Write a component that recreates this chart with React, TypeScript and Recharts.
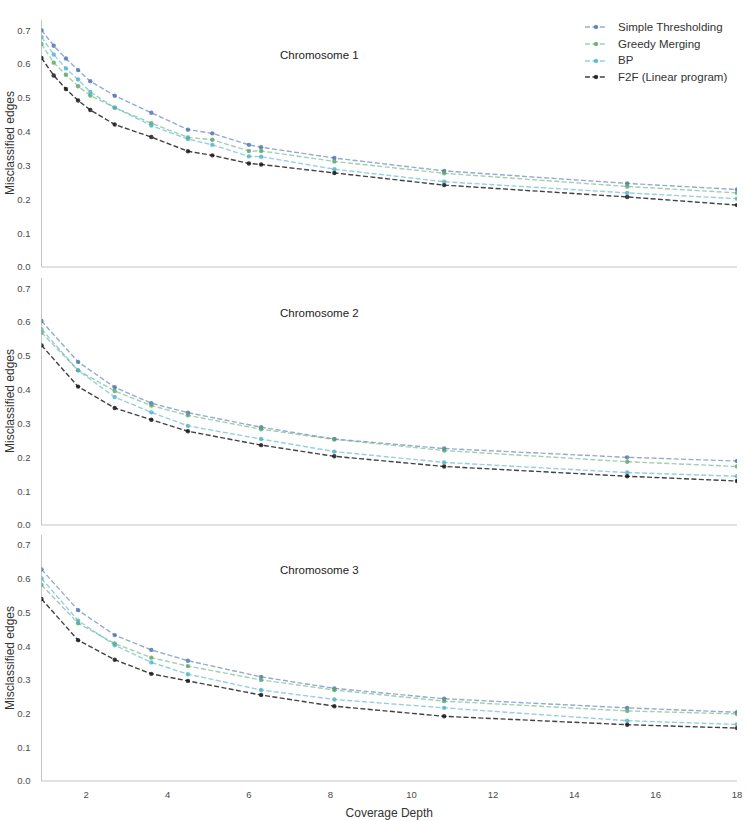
import React from 'react';
import { LineChart, Line, XAxis, YAxis } from 'recharts';

// coverage depths sampled (chromosome 1 has extra points)
const depth1 = [0.9, 1.2, 1.5, 1.8, 2.1, 2.7, 3.6, 4.5, 5.1, 6.0, 6.3, 8.1, 10.8, 15.3, 18];
const depth23 = [0.9, 1.8, 2.7, 3.6, 4.5, 6.3, 8.1, 10.8, 15.3, 18];

const chr1Simple = [0.700, 0.654, 0.616, 0.582, 0.549, 0.506, 0.456, 0.406, 0.395, 0.361, 0.354, 0.322, 0.284, 0.247, 0.229];
const chr1Greedy = [0.659, 0.604, 0.568, 0.534, 0.507, 0.471, 0.425, 0.383, 0.376, 0.343, 0.343, 0.312, 0.277, 0.238, 0.219];
const chr1Bp = [0.680, 0.628, 0.587, 0.554, 0.517, 0.471, 0.418, 0.378, 0.361, 0.327, 0.326, 0.289, 0.252, 0.219, 0.202];
const chr1F2f = [0.618, 0.566, 0.526, 0.492, 0.464, 0.421, 0.384, 0.342, 0.330, 0.306, 0.303, 0.278, 0.242, 0.207, 0.183];

const chr2Simple = [0.603, 0.482, 0.407, 0.360, 0.332, 0.289, 0.254, 0.226, 0.200, 0.189];
const chr2Greedy = [0.569, 0.457, 0.396, 0.353, 0.324, 0.283, 0.253, 0.220, 0.187, 0.173];
const chr2Bp = [0.579, 0.457, 0.378, 0.333, 0.293, 0.254, 0.217, 0.185, 0.155, 0.144];
const chr2F2f = [0.531, 0.409, 0.346, 0.311, 0.277, 0.236, 0.203, 0.173, 0.144, 0.130];

const chr3Simple = [0.628, 0.507, 0.433, 0.389, 0.357, 0.309, 0.275, 0.244, 0.217, 0.204];
const chr3Greedy = [0.582, 0.468, 0.408, 0.366, 0.341, 0.300, 0.270, 0.237, 0.208, 0.199];
const chr3Bp = [0.601, 0.476, 0.403, 0.352, 0.317, 0.270, 0.242, 0.217, 0.179, 0.168];
const chr3F2f = [0.540, 0.418, 0.360, 0.318, 0.297, 0.255, 0.222, 0.192, 0.167, 0.157];

const xTicks = [2, 4, 6, 8, 10, 12, 14, 16, 18];
const yTicks = [0, 0.1, 0.2, 0.3, 0.4, 0.5, 0.6, 0.7];

const series = [
  { key: 'simple', name: 'Simple Thresholding', color: '#4c72b0', lineOp: 0.6 },
  { key: 'greedy', name: 'Greedy Merging', color: '#55a868', lineOp: 0.55 },
  { key: 'bp', name: 'BP', color: '#4fb0cc', lineOp: 0.6 },
  { key: 'f2f', name: 'F2F (Linear program)', color: '#111111', lineOp: 0.8 },
];

function rows(xs: number[], a: number[], b: number[], c: number[], d: number[]) {
  return xs.map((x, i) => ({ x, simple: a[i], greedy: b[i], bp: c[i], f2f: d[i] }));
}

const panels = [
  { title: 'Chromosome 1', data: rows(depth1, chr1Simple, chr1Greedy, chr1Bp, chr1F2f) },
  { title: 'Chromosome 2', data: rows(depth23, chr2Simple, chr2Greedy, chr2Bp, chr2F2f) },
  { title: 'Chromosome 3', data: rows(depth23, chr3Simple, chr3Greedy, chr3Bp, chr3F2f) },
];

const axisColor = '#c4c4c4';
const tickStyle = { fontSize: 9.5, fill: '#4a4a4a' };

function LegendBox() {
  return (
    <div style={{ position: 'absolute', left: 583, top: 19, fontSize: 11.5, color: '#333', lineHeight: '16.7px' }}>
      {series.map((s) => (
        <div key={s.key} style={{ display: 'flex', alignItems: 'center' }}>
          <svg width={32} height={12} style={{ marginRight: 3 }}>
            <line x1={2} y1={6} x2={24} y2={6} stroke={s.color} strokeOpacity={s.lineOp}
              strokeWidth={1.4} strokeDasharray="5 2.4" />
            <circle cx={13} cy={6} r={2.2} fill={s.color} fillOpacity={0.8} />
          </svg>
          <span>{s.name}</span>
        </div>
      ))}
    </div>
  );
}

const pitch = 257.5;

export default function App() {
  return (
    <div style={{ position: 'fixed', left: 0, top: 0, width: 748, height: 821, overflow: 'hidden', background: '#fff', fontFamily: '"Liberation Sans", Arial, sans-serif' }}>
      {panels.map((p, idx) => {
        const last = idx === panels.length - 1;
        const top = 16 + idx * pitch;
        return (
          <div key={p.title} style={{ position: 'absolute', left: 0, top }}>
            <LineChart width={748} height={last ? 290 : 256} data={p.data}
              margin={{ top: 4, right: 11, bottom: last ? 2 : 4, left: 0 }}>
              <XAxis dataKey="x" type="number" domain={[0.9, 18]} ticks={xTicks}
                allowDataOverflow
                tick={last ? tickStyle : false} tickLine={false}
                axisLine={{ stroke: axisColor }}
                height={last ? 38 : 1} tickMargin={4}
                label={last ? { value: 'Coverage Depth', position: 'insideBottom', offset: 2, style: { fontSize: 12, fill: '#333' } } : undefined} />
              <YAxis type="number" domain={[0, 0.73]} ticks={yTicks} width={41.5}
                tick={tickStyle} tickLine={false} axisLine={{ stroke: axisColor }} tickMargin={5}
                tickFormatter={(v: number) => v.toFixed(1)} />
              {series.map((s) => (
                <Line key={s.key} dataKey={s.key} name={s.name} type="linear"
                  stroke={s.color} strokeOpacity={s.lineOp} strokeWidth={1.4} strokeDasharray="5 2.4"
                  dot={{ r: 2.2, fill: s.color, fillOpacity: 0.8, stroke: 'none' }}
                  activeDot={false} isAnimationActive={false} />
              ))}
            </LineChart>
            <div style={{ position: 'absolute', left: 280, top: 33, fontSize: 11.5, color: '#222', whiteSpace: 'nowrap' }}>
              {p.title}
            </div>
            <div style={{ position: 'absolute', left: 10, top: 127, width: 0, height: 0 }}>
              <div style={{ position: 'absolute', transform: 'translate(-50%, -50%) rotate(-90deg)', fontSize: 12, color: '#333', whiteSpace: 'nowrap', lineHeight: '14px' }}>
                Misclassified edges
              </div>
            </div>
          </div>
        );
      })}
      <LegendBox />
    </div>
  );
}
